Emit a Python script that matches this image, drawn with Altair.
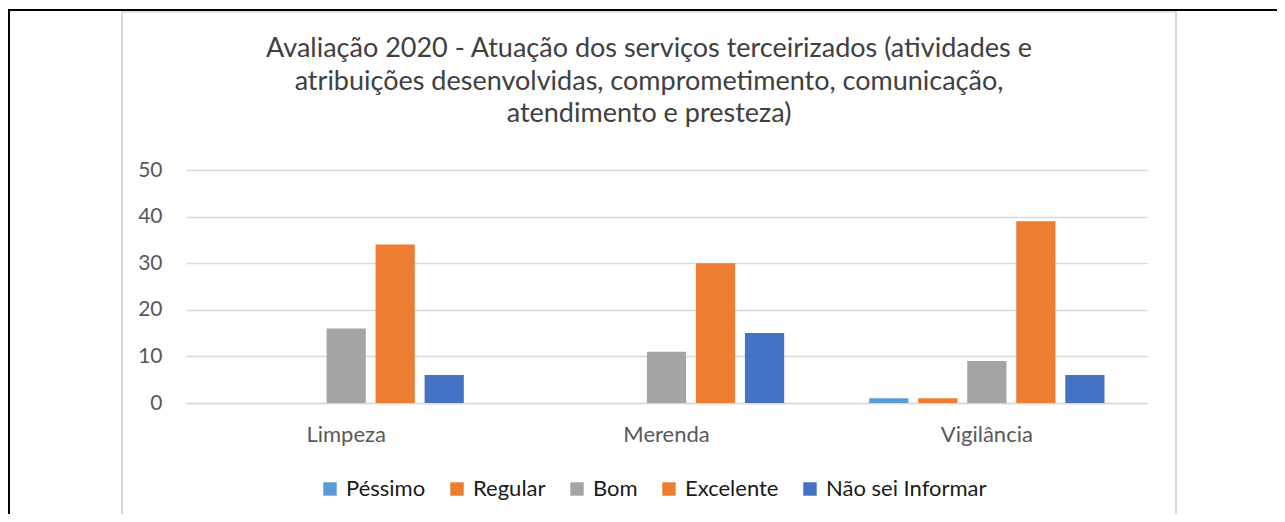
import altair as alt
import pandas as pd

categories = ["Limpeza", "Merenda", "Vigilância"]
series = ["Péssimo", "Regular", "Bom", "Excelente", "Não sei Informar"]
colors = ["#5B9BD5", "#ED7D31", "#A5A5A5", "#ED7D31", "#4472C4"]

pessimo = [0, 0, 1]
regular = [0, 0, 1]
bom = [16, 11, 9]
excelente = [34, 30, 39]
nao_sei = [6, 15, 6]

title_lines = [
    "Avaliação 2020 - Atuação dos serviços terceirizados (atividades e",
    "atribuições desenvolvidas, comprometimento, comunicação,",
    "atendimento e presteza)",
]

rows = []
for s, vals in zip(series, [pessimo, regular, bom, excelente, nao_sei]):
    for c, v in zip(categories, vals):
        rows.append({"categoria": c, "serie": s, "valor": v})
df = pd.DataFrame(rows)

FONT = "Lato"

bars = alt.Chart(df).mark_bar().encode(
    x=alt.X("categoria:N", sort=categories, title=None,
            scale=alt.Scale(paddingInner=0, paddingOuter=0),
            axis=alt.Axis(labelAngle=0, labelFontSize=22, labelColor="#595959",
                          labelFont=FONT, labelPadding=21, ticks=False, grid=False,
                          domainColor="#D9D9D9", domainWidth=1.5)),
    xOffset=alt.XOffset("serie:N", sort=series,
                        scale=alt.Scale(paddingInner=0.2, paddingOuter=0.867)),
    y=alt.Y("valor:Q", title=None,
            scale=alt.Scale(domain=[0, 50]),
            axis=alt.Axis(values=[0, 10, 20, 30, 40, 50], labelFontSize=21,
                          labelColor="#595959", labelFont=FONT, labelPadding=24,
                          ticks=False, domain=False, gridColor="#D9D9D9",
                          gridWidth=1.5)),
    color=alt.Color("serie:N", sort=series,
                    scale=alt.Scale(domain=series, range=colors),
                    legend=alt.Legend(title=None, orient="none", direction="horizontal",
                                      legendX=133, legendY=308, symbolType="square",
                                      symbolSize=180, symbolStrokeWidth=0,
                                      labelFontSize=22, labelFont=FONT, labelLimit=400,
                                      labelColor="#1a1a1a", columnPadding=20,
                                      symbolOffset=0, labelOffset=5, padding=0)),
)

title_df = pd.DataFrame({"t": ["\n".join(title_lines)]})
title = alt.Chart(title_df).mark_text(
    font=FONT, fontSize=27, color="#404040", align="center", baseline="alphabetic",
    lineBreak="\n", lineHeight=32.5,
).encode(text="t:N", x=alt.value(463), y=alt.value(-113))

frame_df = pd.DataFrame({"a": [0]})
left_gray = alt.Chart(frame_df).mark_rule(color="#D9D9D9", strokeWidth=2).encode(
    x=alt.value(-64), y=alt.value(-159), y2=alt.value(352))
right_gray = alt.Chart(frame_df).mark_rule(color="#D9D9D9", strokeWidth=2).encode(
    x=alt.value(990), y=alt.value(-159), y2=alt.value(352))
top_gray = alt.Chart(frame_df).mark_rule(color="#D9D9D9", strokeWidth=1.5).encode(
    x=alt.value(-64), x2=alt.value(990), y=alt.value(-158))
top_black = alt.Chart(frame_df).mark_rule(color="#000000", strokeWidth=2).encode(
    x=alt.value(-178), x2=alt.value(1091), y=alt.value(-160))
left_black = alt.Chart(frame_df).mark_rule(color="#000000", strokeWidth=2).encode(
    x=alt.value(-177), y=alt.value(-161), y2=alt.value(352))

chart = alt.layer(left_gray, right_gray, top_gray, top_black, left_black, title, bars).properties(
    width=961, height=233,
    padding={"left": 178, "top": 162, "right": 130, "bottom": 111},
    autosize=alt.AutoSizeParams(type="none"),
    view=alt.ViewConfig(stroke="transparent", strokeWidth=0),
).configure_view(strokeWidth=0, stroke="transparent").configure(background="white")

chart.save("out.html", embed_options={"renderer": "svg", "actions": False})
